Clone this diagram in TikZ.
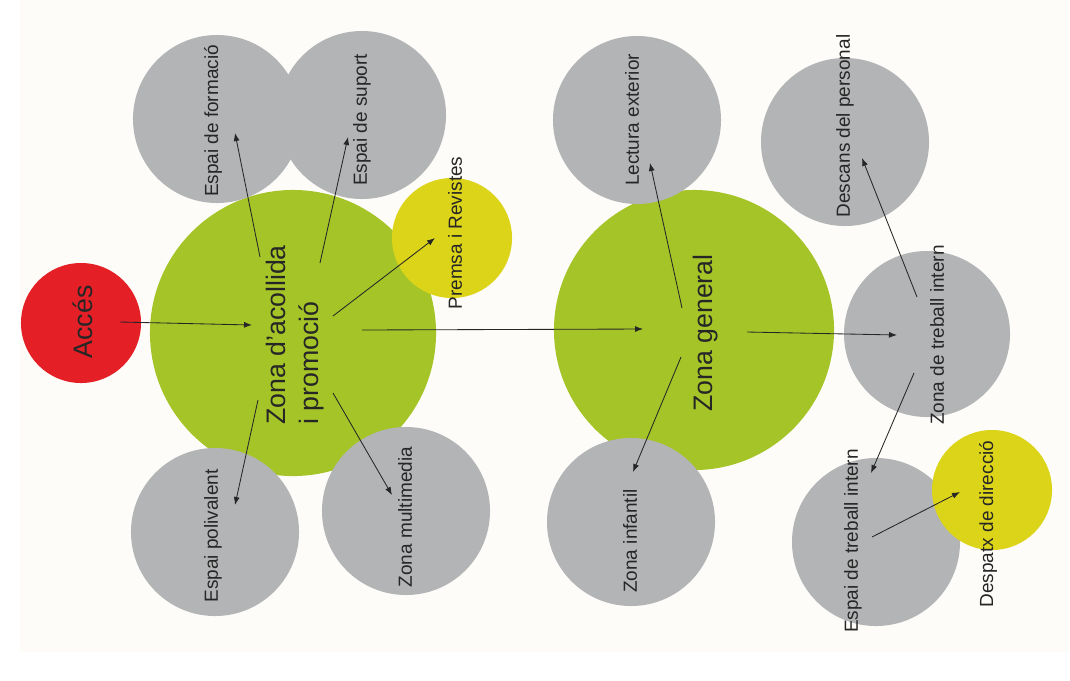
\documentclass[tikz,border=0pt]{standalone}
\usepackage{fontspec}
\setmainfont{Liberation Sans}
\usetikzlibrary{arrows.meta,calc}

\definecolor{zonegreen}{RGB}{165,196,40}
\definecolor{zoneyellow}{RGB}{220,212,25}
\definecolor{zonered}{RGB}{228,32,38}
\definecolor{zonegrey}{RGB}{178,180,181}
\definecolor{papercream}{RGB}{254,252,249}

\begin{document}
\begin{tikzpicture}[x=0.025cm, y=-0.025cm,
    area/.style={circle, inner sep=0pt, minimum size=4.2cm, fill=zonegrey},
    bigarea/.style={circle, inner sep=0pt, minimum size=#1, fill=zonegreen},
    smallarea/.style={circle, inner sep=0pt, minimum size=3cm, fill=#1},
    lbl/.style={rotate=90, inner sep=0pt, text=black!85, font=\fontsize{13.5}{16}\selectfont},
    biglbl/.style={rotate=90, inner sep=0pt, text=black!85, align=left, font=\fontsize{19}{24}\selectfont},
    arr/.style={-{Latex[length=2mm,width=1.5mm]}, line width=0.6pt, black!85}]

    \useasboundingbox (0,0) rectangle (1070,680);
    \fill[papercream] (20,0) rectangle (1070,652);

    % big green zones
    \node[bigarea=7.15cm] (acollida) at (293,333) {};
    \node[bigarea=7cm] (general) at (694,330) {};

    % entrance
    \node[smallarea=zonered] (acces) at (81,323) {};

    % grey areas
    \node[area] (formacio) at (217,119) {};
    \node[area] (suport) at (362,115) {};
    \node[area] (polivalent) at (215,532) {};
    \node[area] (multimedia) at (406,511) {};
    \node[area] (lectura) at (637,120) {};
    \node[area] (descans) at (845,142) {};
    \node[area, minimum size=4.15cm] (treball) at (927,334) {};
    \node[area] (infantil) at (631,522) {};
    \node[area] (espaitreball) at (876,542) {};

    % yellow areas
    \node[smallarea=zoneyellow] (premsa) at (452,238) {};
    \node[smallarea=zoneyellow] (despatx) at (992,490) {};

    % labels
    \node[biglbl] (acces-txt) at (83,322) {Accés};
    \node[biglbl] (acollida-txt) at (295,335) {Zona d'acollida\\i promoció};
    \node[biglbl] (general-txt) at (706,333) {Zona general};
    \node[lbl] (formacio-txt) at (213,121) {Espai de formació};
    \node[lbl] (suport-txt) at (362,120) {Espai de suport};
    \node[lbl] (premsa-txt) at (455,233) {Premsa i Revistes};
    \node[lbl] (polivalent-txt) at (213,536) {Espai polivalent};
    \node[lbl] (multimedia-txt) at (405,517) {Zona multimedia};
    \node[lbl] (lectura-txt) at (632,120) {Lectura exterior};
    \node[lbl] (descans-txt) at (845,126) {Descans del personal};
    \node[lbl] (treball-txt) at (937,335) {Zona de treball intern};
    \node[lbl] (infantil-txt) at (630,541) {Zona infantil};
    \node[lbl] (espaitreball-txt) at (853,541) {Espai de treball intern};
    \node[lbl] (despatx-txt) at (988,524) {Despatx de direcció};

    % arrows out of the entrance zone
    \draw[arr] ($(acces)+(39,-1)$) -- ($(acollida)+(-41,-8)$);
    \draw[arr] ($(acollida)+(-33,-76)$) -- ($(formacio)+(18,14)$);
    \draw[arr] ($(acollida)+(27,-70)$) -- ($(suport)+(-14,22)$);
    \draw[arr] ($(acollida)+(40,-17)$) -- ($(premsa)+(-17,0)$);
    \draw[arr] ($(acollida)+(69,-3)$) -- ($(general)+(-51,-1)$);
    \draw[arr] ($(acollida)+(-35,67)$) -- ($(polivalent)+(20,-27)$);
    \draw[arr] ($(acollida)+(40,60)$) -- ($(multimedia)+(-14,-16)$);

    % arrows out of the general zone
    \draw[arr] ($(general)+(-12,-22)$) -- ($(lectura)+(13,43)$);
    \draw[arr] ($(general)+(53,2)$) -- ($(treball)+(-30,1)$);
    \draw[arr] ($(general)+(-13,27)$) -- ($(infantil)+(2,-50)$);

    % staff side
    \draw[arr] ($(treball)+(-10,-37)$) -- ($(descans)+(17,16)$);
    \draw[arr] ($(treball)+(-13,39)$) -- ($(espaitreball)+(-5,-69)$);
    \draw[arr] ($(espaitreball)+(-4,-5)$) -- ($(despatx)+(-32,2)$);

\end{tikzpicture}
\end{document}
